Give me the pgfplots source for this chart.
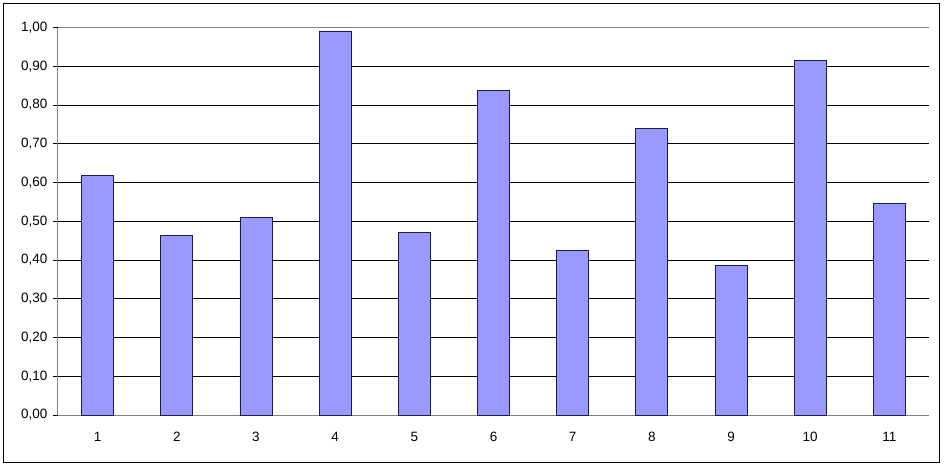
\documentclass[border=0pt]{standalone}
\usepackage{fontspec}
\setmainfont{Liberation Sans}
\usepackage{pgfplots}
\pgfplotsset{compat=1.18}
\definecolor{barfill}{HTML}{9999FF}
\definecolor{barline}{HTML}{1A1A4D}
\definecolor{axgray}{HTML}{808080}
\begin{document}
\begin{tikzpicture}
\useasboundingbox (0pt,0pt) rectangle (945pt,466pt);
\draw[black, line width=1pt] (3.5pt,3.5pt) rectangle (939.5pt,462.5pt);
\begin{axis}[
  at={(58pt,51pt)}, anchor=south west,
  scale only axis, width=871pt, height=387.5pt,
  xmin=0.5, xmax=11.5, ymin=0, ymax=1,
  axis x line*=bottom, axis y line*=left,
  axis line style={-, axgray, line width=1pt},
  ytick={0,0.1,0.2,0.3,0.4,0.5,0.6,0.7,0.8,0.9},
  extra y ticks={1},
  extra y tick style={grid style={axgray, line width=1pt}},
  ymajorgrids,
  grid style={black, line width=0.9pt},
  xtick={1,2,3,4,5,6,7,8,9,10,11},
  xticklabels={1,2,3,4,5,6,7,8,9,10,11},
  major x tick style={draw=none},
  extra x ticks={0.5,1.5,2.5,3.5,4.5,5.5,6.5,7.5,8.5,9.5,10.5,11.5},
  extra x tick labels={},
  extra x tick style={grid=none, major tick length=5pt, tick style={axgray, line width=1pt}},
  tick align=outside,
  major tick length=5pt,
  ytick style={black, line width=0.9pt},
  tick label style={font=\fontsize{13.5}{15}\selectfont},
  /pgf/number format/use comma,
  /pgf/number format/fixed,
  /pgf/number format/fixed zerofill,
  /pgf/number format/precision=2,
  /pgf/number format/assume math mode=true,
  yticklabel style={xshift=-2pt},
  xticklabel style={yshift=-9pt},
  ybar, bar width=32pt,
]
\addplot[fill=barfill, draw=barline, line width=0.9pt] coordinates {
  (1,0.619) (2,0.464) (3,0.510) (4,0.991) (5,0.472) (6,0.838)
  (7,0.425) (8,0.740) (9,0.385) (10,0.915) (11,0.546)
};
\end{axis}
\end{tikzpicture}
\end{document}
